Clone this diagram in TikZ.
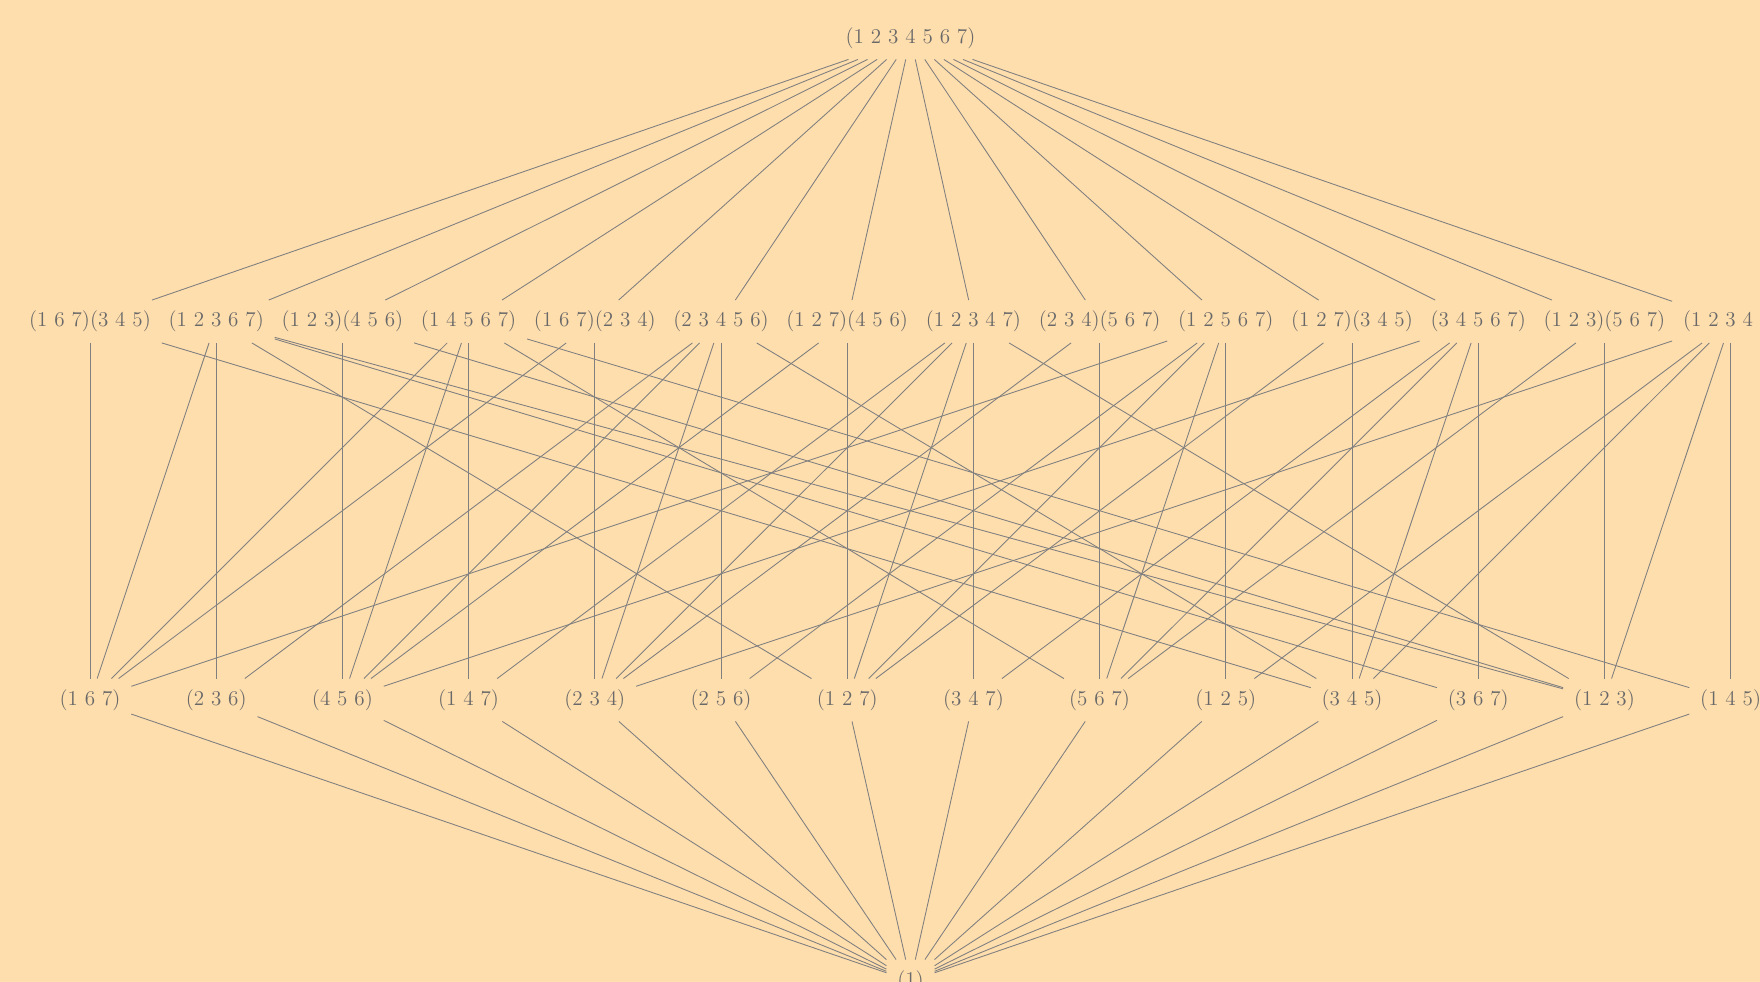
\documentclass[tikz,border=0pt]{standalone}
\usepackage{tikz}
\definecolor{bgTan}{RGB}{255,222,173}
\definecolor{edgeGray}{RGB}{128,128,128}
\definecolor{labelGray}{RGB}{105,105,105}

\begin{document}
\begin{tikzpicture}[
  perm/.style={inner sep=6pt, text=labelGray, font=\fontsize{12}{14}\selectfont},
  link/.style={edgeGray, line width=0.5pt}
]
  % canvas: 1760 x 982 px, 1 px = 0.02 cm
  \fill[bgTan] (0,0) rectangle (35.2,19.64);
  \useasboundingbox (0,0) rectangle (35.2,19.64);
  \def\dx{2.524}
  % top and bottom of the lattice
  \node[perm] (top) at (18.21, 18.88) {(1 2 3 4 5 6 7)};
  \node[perm] (id) at (18.21, 0.02) {(1)};
  % middle row: y = 13.21
  \foreach \lab [count=\i] in {{(1 6 7)(3 4 5)}, {(1 2 3 6 7)}, {(1 2 3)(4 5 6)},
      {(1 4 5 6 7)}, {(1 6 7)(2 3 4)}, {(2 3 4 5 6)}, {(1 2 7)(4 5 6)},
      {(1 2 3 4 7)}, {(2 3 4)(5 6 7)}, {(1 2 5 6 7)}, {(1 2 7)(3 4 5)},
      {(3 4 5 6 7)}, {(1 2 3)(5 6 7)}, {(1 2 3 4 5)}}
    \node[perm] (m\i) at ({1.8+\dx*(\i-1)}, 13.21) {\lab};
  % bottom row: y = 5.64
  \foreach \lab [count=\i] in {{(1 6 7)}, {(2 3 6)}, {(4 5 6)}, {(1 4 7)},
      {(2 3 4)}, {(2 5 6)}, {(1 2 7)}, {(3 4 7)}, {(5 6 7)}, {(1 2 5)},
      {(3 4 5)}, {(3 6 7)}, {(1 2 3)}, {(1 4 5)}}
    \node[perm] (b\i) at ({1.8+\dx*(\i-1)}, 5.64) {\lab};
  % edges
  \foreach \i in {1,...,14} {
    \draw[link] (top) -- (m\i);
    \draw[link] (b\i) -- (id);
  }
  \foreach \a/\b in {1/1, 1/11, 2/1, 2/2, 2/7, 2/12, 2/13, 3/3, 3/13,
      4/1, 4/3, 4/4, 4/9, 4/14, 5/1, 5/5, 6/2, 6/3, 6/5, 6/6, 6/11,
      7/3, 7/7, 8/4, 8/5, 8/7, 8/8, 8/13, 9/5, 9/9,
      10/1, 10/6, 10/7, 10/9, 10/10, 11/7, 11/11,
      12/3, 12/8, 12/9, 12/11, 12/12, 13/9, 13/13,
      14/5, 14/10, 14/11, 14/13, 14/14}
    \draw[link] (m\a) -- (b\b);
\end{tikzpicture}
\end{document}
